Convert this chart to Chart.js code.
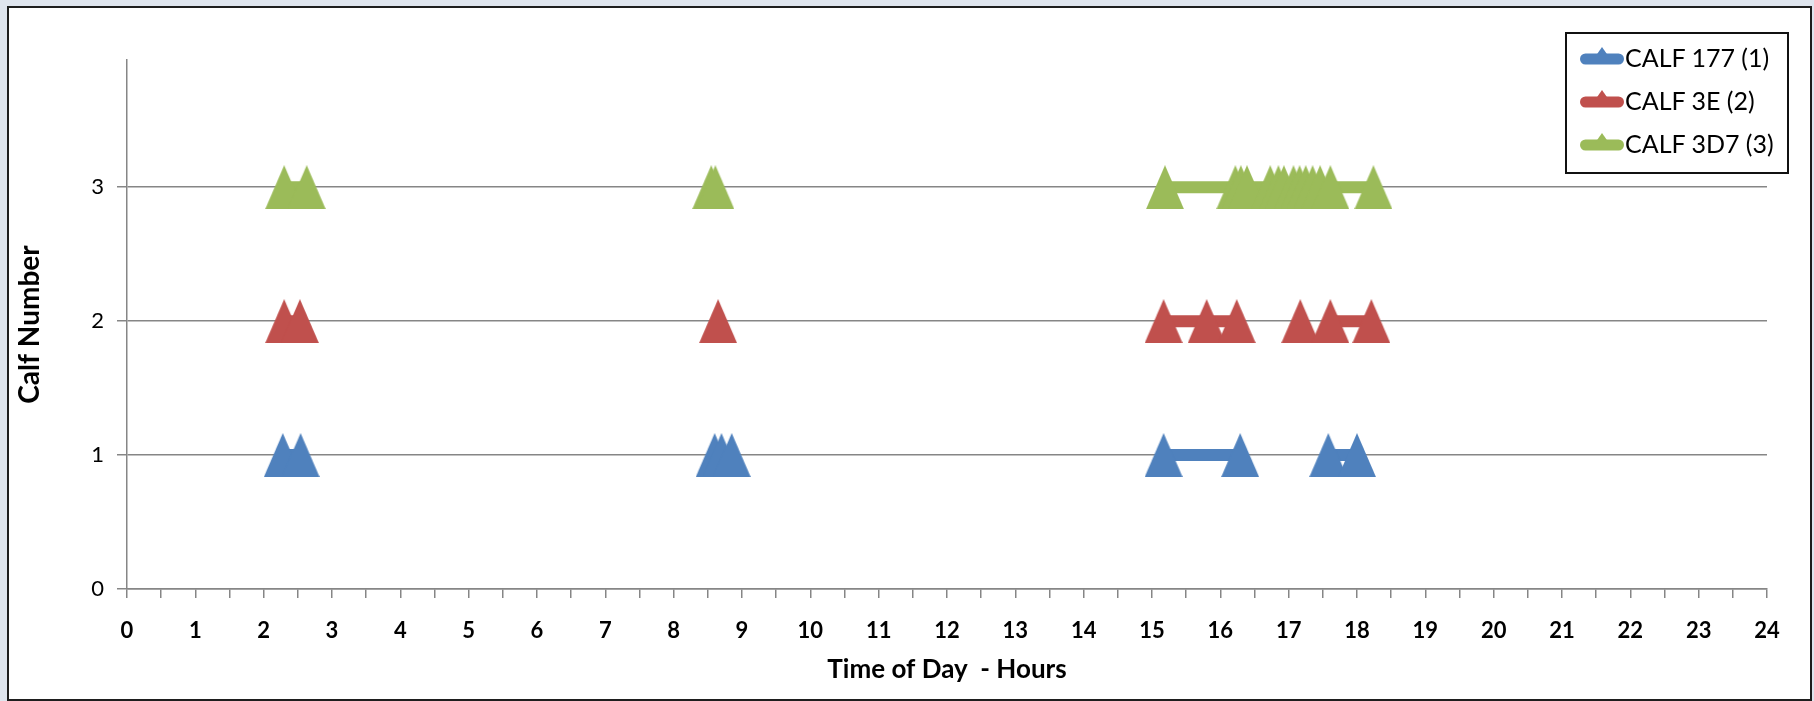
<!DOCTYPE html>
<html>
<head>
<meta charset="utf-8">
<script src="https://cdn.jsdelivr.net/npm/chart.js@4.4.0/dist/chart.umd.min.js"></script>
<style>
  html, body { margin: 0; padding: 0; background: #dfe5ee; }
  #wrap { position: relative; width: 1814px; height: 701px; overflow: hidden; }
  #frame { position: absolute; left: 7px; top: 6px; width: 1801px; height: 691px;
           border: 2px solid #1e1e1e; background: #fff; }
  #chart { position: absolute; left: 0; top: 0; }
  #legend { position: absolute; left: 1565px; top: 32px; width: 220px; height: 138px;
            border: 2px solid #111; background: #fff;
            font-family: Lato, 'Liberation Sans', sans-serif;
            font-size: 25px; color: #000; }
  .item { position: absolute; left: 13px; height: 30px; display: flex; align-items: center; white-space: pre; }
  .item canvas { margin-right: 1px; }
</style>
</head>
<body>
<div id="wrap">
  <div id="frame"></div>
  <canvas id="chart" width="1814" height="701"></canvas>
  <div id="legend"></div>
</div>
<script>
// ==== data ====
const calfNumbers = [1, 2, 3];
const calfTicks = [0, 1, 2, 3];
const seriesNames = ['CALF 177 (1)', 'CALF 3E (2)', 'CALF 3D7 (3)'];
const seriesColors = ['#4f81bd', '#c0504d', '#9bbb59'];
// time of each visit in hours, null = break between visits (no line)
const calf177Times = [2.28, 2.54, null, 8.60, 8.70, 8.85, null, 15.17, 16.29, null, 17.58, 18.00];
const calf3ETimes = [2.30, 2.53, null, 8.65, null, 15.17, 15.80, 16.24, null, 17.17, null, 17.61, 18.21];
const calf3D7Times = [2.30, 2.63, null, 8.55, 8.61, null, 15.19, 16.22, 16.30, 16.39, 16.73, 16.85,
                      16.93, 17.07, 17.16, 17.25, 17.35, 17.46, 17.61, 18.24];
const allTimes = [calf177Times, calf3ETimes, calf3D7Times];

const FONT = "Lato, 'Liberation Sans', sans-serif";
const GRID = '#868686';

// big triangle marker (taller than wide, like the excel one)
function makeMarker(color) {
  const c = document.createElement('canvas');
  c.width = 38; c.height = 44;
  const g = c.getContext('2d');
  g.fillStyle = color;
  g.beginPath();
  g.moveTo(0, 44);
  g.lineTo(19, 0);
  g.lineTo(38, 44);
  g.closePath();
  g.fill();
  return c;
}

function toPoints(times, calf) {
  return times.map((t, i) => t === null ? { x: times[i - 1], y: null } : { x: t, y: calf });
}

const datasets = allTimes.map((times, i) => ({
  label: seriesNames[i],
  data: toPoints(times, calfNumbers[i]),
  borderColor: seriesColors[i],
  backgroundColor: seriesColors[i],
  borderWidth: 12,
  borderCapStyle: 'butt',
  pointStyle: makeMarker(seriesColors[i]),
  pointRadius: 19,
  pointHoverRadius: 19,
  spanGaps: false,
  tension: 0
}));

new Chart(document.getElementById('chart'), {
  type: 'line',
  data: { datasets: datasets },
  options: {
    responsive: false,
    animation: false,
    events: [],
    layout: { padding: { left: 9, right: 47, top: 60, bottom: 12 } },
    plugins: { legend: { display: false }, tooltip: { enabled: false } },
    scales: {
      x: {
        type: 'linear', min: 0, max: 24,
        afterFit: s => { s.height = 100; },
        ticks: {
          stepSize: 0.5, autoSkip: false, maxRotation: 0, padding: 20, color: '#000',
          font: { family: FONT, size: 22, weight: 'bold' },
          callback: v => Number.isInteger(v) ? String(v) : ''
        },
        grid: { drawOnChartArea: false, drawTicks: true, tickLength: 9, color: GRID, lineWidth: 1.5 },
        border: { color: GRID, width: 1.5 },
        title: { display: true, text: 'Time of Day  - Hours', color: '#000',
                 font: { family: FONT, size: 26, weight: 'bold' } }
      },
      y: {
        min: 0, max: 3.95,
        afterFit: s => { s.width = 118; },
        afterBuildTicks: s => { s.ticks = calfTicks.map(v => ({ value: v })); },
        ticks: { padding: 13, color: '#000', font: { family: FONT, size: 22 } },
        grid: { color: GRID, lineWidth: 1.5, drawTicks: true, tickLength: 10 },
        border: { color: GRID, width: 1.5 },
        title: { display: true, text: 'Calf Number', color: '#000',
                 font: { family: FONT, size: 28, weight: 'bold' } }
      }
    }
  }
});

// ==== legend (box inside plot, top right) ====
const legend = document.getElementById('legend');
seriesNames.forEach((name, i) => {
  const row = document.createElement('div');
  row.className = 'item';
  row.style.top = (8 + i * 43) + 'px';
  const sw = document.createElement('canvas');
  sw.width = 44; sw.height = 24;
  const g = sw.getContext('2d');
  g.strokeStyle = seriesColors[i];
  g.fillStyle = seriesColors[i];
  g.lineWidth = 11;
  g.lineCap = 'round';
  g.beginPath(); g.moveTo(5.5, 14); g.lineTo(38.5, 14); g.stroke();
  g.beginPath(); g.moveTo(15, 12); g.lineTo(22, 2); g.lineTo(29, 12); g.closePath(); g.fill();
  row.appendChild(sw);
  const txt = document.createElement('span');
  txt.textContent = name;
  row.appendChild(txt);
  legend.appendChild(row);
});
</script>
</body>
</html>
